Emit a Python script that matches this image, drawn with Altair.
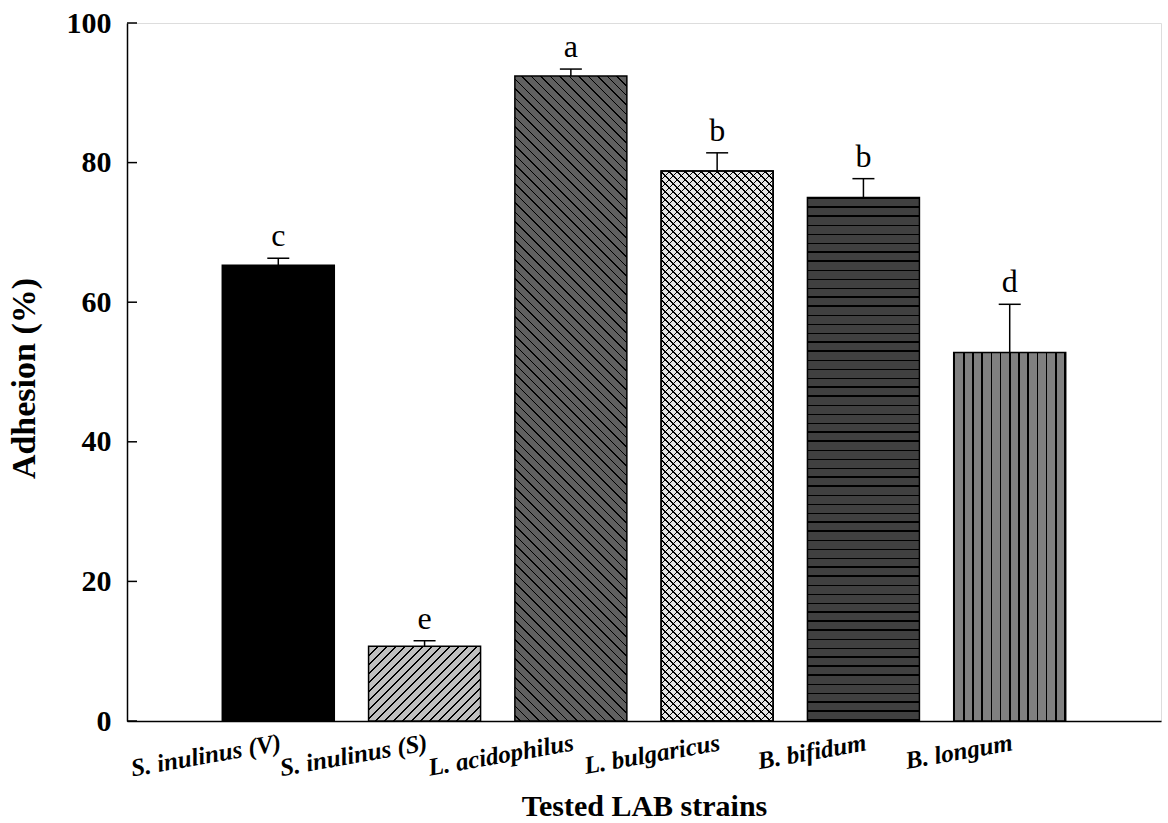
import json
import math
import altair as alt
import pandas as pd

# ---- data ----
strains = ["S. inulinus (V)", "S. inulinus (S)", "L. acidophilus",
           "L. bulgaricus", "B. bifidum", "B. longum"]
adhesion = [65.3, 10.7, 92.4, 78.8, 75.0, 52.8]
error = [1.0, 0.8, 1.0, 2.6, 2.7, 6.9]
letters = ["c", "e", "a", "b", "b", "d"]
y_ticks = [0, 20, 40, 60, 80, 100]

# ---- layout / style ----
W, H = 1034, 698
BAR_W = 112
FONT = "Liberation Serif"
LW = 1.5

df = pd.DataFrame({
    "pos": list(range(1, len(strains) + 1)),
    "strain": strains,
    "adhesion": adhesion,
    "err_top": [a + e for a, e in zip(adhesion, error)],
    "letter": letters,
})
ticks_df = pd.DataFrame({"v": y_ticks})


def stops(n_periods, line_frac, fg, bg):
    P = 1.0 / n_periods
    out = []
    k = 0
    while k * P < 1:
        o = k * P
        a = min(o + line_frac * P, 1.0)
        b = min(o + P, 1.0)
        out += [(o, fg), (a, fg), (a, bg), (b, bg)]
        k += 1
    return [{"offset": round(o, 5), "color": c} for o, c in out]


def diag(value, direction, spacing, thick, fg, bg):
    w = BAR_W
    h = value / 100.0 * H
    r = w / h
    q = (1 + r) / (1 + r * r)
    p = q * r
    n = (w + h) / spacing
    st = stops(n, thick / spacing, fg, bg)
    if direction == "/":
        return {"gradient": "linear", "x1": 0, "y1": 0, "x2": p, "y2": q, "stops": st}
    return {"gradient": "linear", "x1": 1, "y1": 0, "x2": 1 - p, "y2": q, "stops": st}


def vert(spacing, thick, fg, bg):
    n = BAR_W / spacing
    return {"gradient": "linear", "x1": 0, "y1": 0, "x2": 1, "y2": 0,
            "stops": stops(n, thick / spacing, fg, bg)}


def horiz(value, spacing, thick, fg, bg):
    h = value / 100.0 * H
    n = h / spacing
    return {"gradient": "linear", "x1": 0, "y1": 0, "x2": 0, "y2": 1,
            "stops": stops(n, thick / spacing, fg, bg)}


label_expr = json.dumps([""] + strains + [""]) + "[datum.value]"

x_axis = alt.Axis(
    values=list(range(1, len(strains) + 1)), labelExpr=label_expr,
    ticks=False, grid=False, labelAngle=350, labelAlign="right",
    labelBaseline="top", labelPadding=9, labelFont=FONT, labelFontSize=25,
    labelFontStyle="italic", labelFontWeight="bold", labelColor="black",
    labelOverlap=False, labelFlush=False,
    domainColor="black", domainWidth=LW,
    titleFont=FONT, titleFontSize=30, titleFontWeight="bold", titleColor="black",
    titleX=W / 2, titleY=94, titleBaseline="alphabetic", titleAlign="center",
)
y_axis = alt.Axis(
    values=y_ticks, ticks=False, grid=False, labelPadding=16,
    labelFont=FONT, labelFontSize=30, labelFontWeight="bold", labelColor="black",
    domainColor="black", domainWidth=LW,
    titleFont=FONT, titleFontSize=34, titleFontWeight="bold", titleColor="black",
    titleAngle=270, titleX=-93, titleY=H / 2 + 6, titleBaseline="alphabetic",
    titleAlign="center",
)

X = alt.X("pos:Q", scale=alt.Scale(domain=[0, 7], nice=False), axis=x_axis,
          title="Tested LAB strains")
Y = alt.Y("adhesion:Q", scale=alt.Scale(domain=[0, 100], nice=False), axis=y_axis,
          title="Adhesion (%)")

base = alt.Chart(df)

fills = [
    ["black"],
    [diag(adhesion[1], "/", 9.0, 1.6, "black", "#c0c0c0")],
    [diag(adhesion[2], "\\", 9.5, 1.6, "black", "#606060")],
    [diag(adhesion[3], "/", 8.0, 1.8, "black", "#e4e4e4"),
     diag(adhesion[3], "\\", 8.0, 1.8, "black", "rgba(0,0,0,0)")],
    [horiz(adhesion[4], 9.0, 1.8, "black", "#404040")],
    [vert(9.2, 1.6, "black", "#808080")],
]

layers = []
for i, fl in enumerate(fills):
    for f in fl:
        layers.append(
            base.transform_filter(alt.datum.pos == i + 1)
            .mark_bar(size=BAR_W, fill=f, stroke="black", strokeWidth=LW)
            .encode(x=X, y=Y)
        )

Y_err = alt.Y("err_top:Q", scale=alt.Scale(domain=[0, 100], nice=False),
              axis=y_axis, title="Adhesion (%)")

err_line = base.mark_rule(color="black", strokeWidth=LW).encode(
    x=X, y=Y, y2="err_top:Q")
err_cap = base.mark_rule(color="black", strokeWidth=LW, xOffset=-11, x2Offset=11).encode(
    x=X, x2="pos:Q", y=Y_err)
text = base.mark_text(font=FONT, fontSize=32, baseline="alphabetic", dy=-12,
                      color="black").encode(x=X, y=Y_err, text="letter:N")
tick_rules = alt.Chart(ticks_df).mark_rule(color="black", strokeWidth=LW).encode(
    y=alt.Y("v:Q", scale=alt.Scale(domain=[0, 100], nice=False), axis=y_axis,
            title="Adhesion (%)"),
    x=alt.value(0), x2=alt.value(10))

chart = alt.layer(*layers, err_line, err_cap, text, tick_rules).properties(
    width=W, height=H,
    autosize=alt.AutoSizeParams(type="none"),
    padding={"left": 127, "top": 23, "right": 7, "bottom": 102},
).configure_view(stroke=None).configure(background="white")

chart.save("out.html", embed_options={"renderer": "svg", "actions": False})
